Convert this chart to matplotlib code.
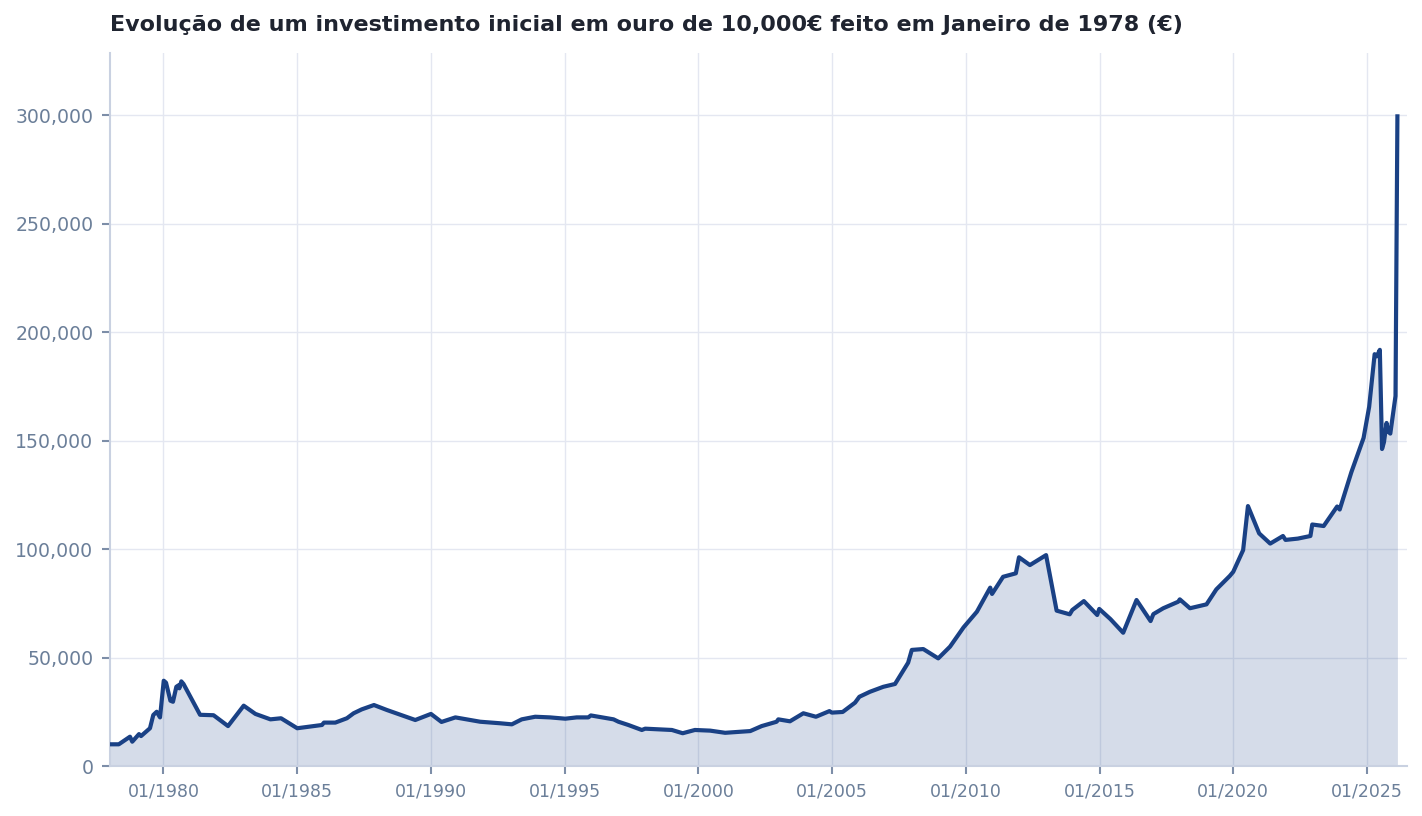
import matplotlib
matplotlib.use("Agg")
import matplotlib.pyplot as plt
import matplotlib.dates as mdates
import matplotlib.ticker as mticker
import pandas as pd

dates = [
    "1978-01-01", "1978-05-01", "1978-10-01", "1978-11-01", "1979-02-01", "1979-03-01",
    "1979-07-01", "1979-08-15", "1979-10-01", "1979-11-15", "1980-01-05", "1980-02-05",
    "1980-04-05", "1980-05-10", "1980-06-25", "1980-07-25", "1980-08-05", "1980-09-01",
    "1980-10-01", "1981-05-15", "1981-11-15", "1982-06-01", "1983-01-01", "1983-06-10",
    "1984-01-01", "1984-05-25", "1985-01-01", "1985-12-05", "1986-01-01", "1986-06-05",
    "1986-11-10", "1987-02-10", "1987-06-01", "1987-11-15", "1988-05-10", "1989-06-01",
    "1990-01-01", "1990-05-25", "1990-12-01", "1991-11-05", "1992-08-01", "1993-01-10",
    "1993-05-25", "1993-11-25", "1994-06-15", "1995-01-10", "1995-06-15", "1995-11-20",
    "1995-12-25", "1996-10-30", "1997-01-05", "1997-05-20", "1997-11-20", "1998-01-05",
    "1999-01-05", "1999-06-01", "1999-11-15", "2000-06-10", "2001-01-01", "2001-12-10",
    "2002-05-15", "2002-12-05", "2002-12-28", "2003-06-05", "2003-12-05", "2004-05-25",
    "2004-11-25", "2004-12-28", "2005-05-25", "2005-11-10", "2006-01-08", "2006-06-01",
    "2006-12-01", "2007-05-10", "2007-11-05", "2007-12-25", "2008-05-30", "2008-12-20",
    "2009-05-30", "2009-12-01", "2010-06-01", "2010-11-30", "2010-12-25", "2011-05-25",
    "2011-11-15", "2011-12-28", "2012-05-25", "2013-01-01", "2013-05-25", "2013-11-20",
    "2013-12-25", "2014-06-01", "2014-11-30", "2014-12-28", "2015-05-30", "2015-11-20",
    "2016-05-20", "2016-11-28", "2017-01-05", "2017-05-20", "2017-12-10", "2018-01-01",
    "2018-05-20", "2019-01-01", "2019-05-15", "2019-11-15", "2020-01-01", "2020-05-15",
    "2020-07-20", "2020-12-20", "2021-05-20", "2021-11-10", "2021-12-15", "2022-06-01",
    "2022-11-20", "2022-12-15", "2023-05-20", "2023-11-20", "2023-12-25", "2024-06-01",
    "2024-11-15", "2025-01-30", "2025-04-15", "2025-05-15", "2025-06-25", "2025-07-25",
    "2025-08-20", "2025-09-25", "2025-10-15", "2025-11-15", "2026-01-25", "2026-02-20",
]

values = [
    10000, 10000, 13500, 11200, 14700, 13800,
    17400, 23500, 25000, 22400, 39300, 38400,
    30100, 29600, 36500, 37200, 35800, 39000,
    37800, 23600, 23400, 18400, 27800, 24000,
    21500, 22000, 17400, 18900, 20000, 20000,
    22000, 24300, 26100, 28100, 25800, 21200,
    24000, 20300, 22400, 20400, 19700, 19200,
    21500, 22700, 22400, 21800, 22400, 22400,
    23300, 21500, 20400, 18900, 16600, 17200,
    16600, 15100, 16600, 16300, 15300, 16100,
    18400, 20400, 21500, 20600, 24300, 22700,
    25300, 24600, 24900, 29200, 31900, 34200,
    36500, 37800, 47600, 53500, 53900, 49600,
    55000, 63900, 71100, 82200, 79300, 87200,
    88800, 96200, 92600, 97200, 71600, 69900,
    71900, 76000, 69600, 72400, 67700, 61400,
    76500, 66800, 70000, 72700, 75700, 76800,
    72700, 74500, 81400, 87600, 89500, 99500,
    119800, 107200, 102500, 106000, 104200, 104800,
    106000, 111300, 110600, 119600, 118200, 135400,
    151200, 165500, 189800, 188800, 191800, 146100,
    149200, 158100, 154200, 153200, 170500, 299400,
]

x_tick_years = [1980, 1985, 1990, 1995, 2000, 2005, 2010, 2015, 2020, 2025]
y_ticks = [0, 50000, 100000, 150000, 200000, 250000, 300000]

title = "Evolução de um investimento inicial em ouro de 10,000€ feito em Janeiro de 1978 (€)"

plt.rcParams['font.family'] = ['DejaVu Sans']

dt = pd.to_datetime(dates)

fig = plt.figure(figsize=(14.22, 8.16), dpi=100)
ax = fig.add_axes([110 / 1422, 50 / 816, (1407 - 110) / 1422, (766 - 53) / 816])

line_color = "#1a4185"
grid_color = "#e4e7f1"
tick_color = "#6b7f99"
spine_color = "#c9d1e1"

ax.fill_between(dt, values, 0, color=line_color, alpha=0.18, linewidth=0, zorder=2)
ax.plot(dt, values, color=line_color, linewidth=3, solid_joinstyle="round", zorder=3)

ax.set_xlim(pd.Timestamp("1978-01-01"), pd.Timestamp("2026-07-01"))
ax.set_ylim(0, 328600)

ax.set_xticks([pd.Timestamp(f"{y}-01-01") for y in x_tick_years])
ax.xaxis.set_major_formatter(mdates.DateFormatter("%m/%Y"))
ax.set_yticks(y_ticks)
ax.yaxis.set_major_formatter(mticker.FuncFormatter(lambda v, p: f"{int(v):,}"))

ax.grid(True, color=grid_color, linewidth=1.0, zorder=0)
ax.set_axisbelow(True)

for s in ["top", "right"]:
    ax.spines[s].set_visible(False)
for s in ["left", "bottom"]:
    ax.spines[s].set_color(spine_color)
    ax.spines[s].set_linewidth(1.5)

ax.tick_params(axis="both", colors="#7d8ea8", length=6, width=1.5, labelcolor=tick_color)
ax.tick_params(axis="x", labelsize=12.5, pad=6)
ax.tick_params(axis="y", labelsize=13.6, pad=6)

fig.text(110 / 1422, 1 - 25 / 816, title, fontsize=16, fontweight="bold",
         color="#1f2430", ha="left", va="center")

fig.savefig("out.png", dpi=100)
